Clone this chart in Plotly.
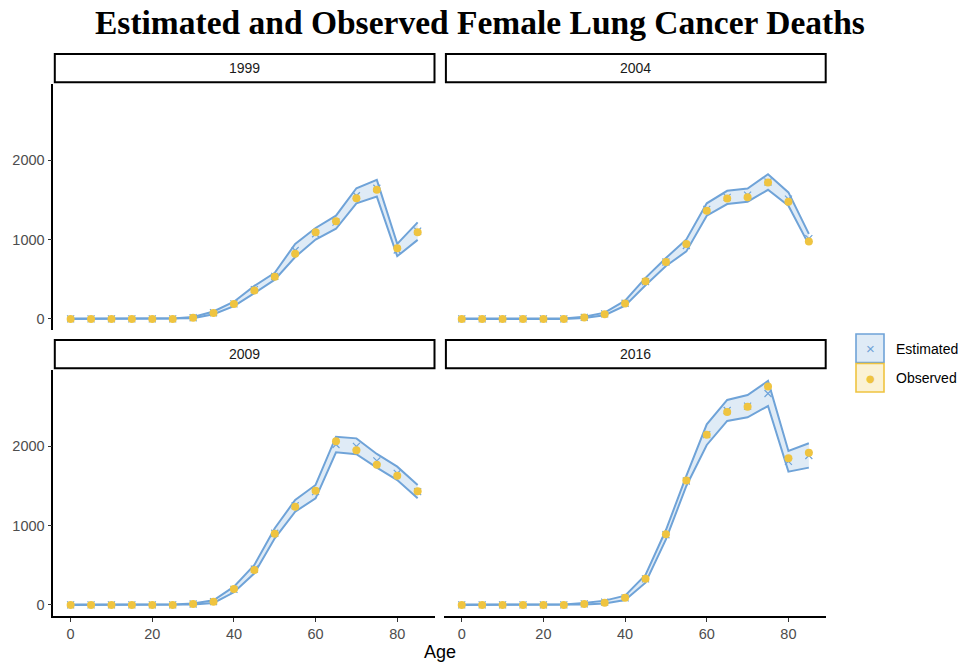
import plotly.graph_objects as go

W, H = 968, 664

ages = [0, 5, 10, 15, 20, 25, 30, 35, 40, 45, 50, 55, 60, 65, 70, 75, 80, 85]
years = ["1999", "2004", "2009", "2016"]

obs_1999 = [0, 0, 0, 0, 0, 0, 15, 75, 190, 358, 530, 820, 1090, 1230, 1520, 1625, 890, 1090]
up_1999 = [5, 5, 5, 5, 5, 5, 25, 95, 217, 417, 580, 945, 1145, 1300, 1645, 1750, 945, 1215]
lo_1999 = [0, 0, 0, 0, 0, 0, 8, 60, 162, 325, 495, 780, 1000, 1135, 1455, 1540, 790, 995]
est_1999 = [2, 2, 2, 2, 2, 2, 16, 78, 190, 370, 537, 862, 1072, 1218, 1550, 1645, 868, 1105]

obs_2004 = [0, 0, 0, 0, 0, 0, 20, 60, 195, 475, 717, 942, 1362, 1517, 1530, 1717, 1475, 975]
up_2004 = [5, 5, 5, 5, 5, 5, 28, 80, 230, 517, 767, 1000, 1455, 1612, 1642, 1821, 1592, 1071]
lo_2004 = [0, 0, 0, 0, 0, 0, 12, 48, 167, 425, 667, 850, 1300, 1446, 1475, 1625, 1425, 935]
est_2004 = [2, 2, 2, 2, 2, 2, 20, 64, 198, 471, 717, 925, 1378, 1529, 1558, 1723, 1508, 1010]

obs_2009 = [0, 0, 0, 0, 0, 0, 12, 40, 201, 440, 897, 1237, 1438, 2059, 1946, 1765, 1627, 1430]
up_2009 = [5, 5, 5, 5, 5, 5, 20, 60, 231, 503, 965, 1321, 1510, 2117, 2096, 1900, 1740, 1510]
lo_2009 = [0, 0, 0, 0, 0, 0, 6, 25, 160, 399, 839, 1174, 1342, 1921, 1896, 1727, 1572, 1342]
est_2009 = [2, 2, 2, 2, 2, 2, 13, 42, 196, 451, 902, 1248, 1426, 2019, 1996, 1813, 1656, 1426]

obs_2016 = [0, 0, 0, 0, 0, 0, 12, 29, 92, 331, 889, 1565, 2143, 2428, 2495, 2747, 1845, 1916]
up_2016 = [5, 5, 5, 5, 5, 5, 25, 55, 117, 377, 943, 1623, 2273, 2579, 2642, 2818, 1937, 2034]
lo_2016 = [0, 0, 0, 0, 0, 0, 5, 18, 63, 281, 826, 1497, 2013, 2315, 2361, 2503, 1677, 1728]
est_2016 = [2, 2, 2, 2, 2, 2, 14, 36, 90, 329, 884, 1560, 2143, 2447, 2501, 2660, 1807, 1881]

x_ticks = [0, 20, 40, 60, 80]
y_ticks = [0, 1000, 2000]

panels = [
    (obs_1999, up_1999, lo_1999, est_1999),
    (obs_2004, up_2004, lo_2004, est_2004),
    (obs_2009, up_2009, lo_2009, est_2009),
    (obs_2016, up_2016, lo_2016, est_2016),
]

BLUE = "#6FA3D8"
FILL = "rgba(111,163,216,0.22)"
YEL = "#EFC440"
TXT = "#4D4D4D"
FONT = "Liberation Sans, Arial, sans-serif"

# pixel geometry of panels
col_px = [(53.3, 435.0), (444.4, 826.2)]
row_px = [(83.6, 330.2), (369.6, 616.2)]
strip_px = [(54.0, 82.3), (340.0, 368.3)]

def px_x(v):
    return v / W

def px_y(v):
    return 1 - v / H

fig = go.Figure()
layout_axes = {}
shapes = []
annotations = []

for i, (obs, up, lo, est) in enumerate(panels):
    r, c = divmod(i, 2)
    n = i + 1
    xa = "x" if n == 1 else f"x{n}"
    ya = "y" if n == 1 else f"y{n}"
    fig.add_trace(go.Scatter(x=ages, y=lo, mode="lines", line=dict(color=BLUE, width=2),
                             xaxis=xa, yaxis=ya, showlegend=False, hoverinfo="skip"))
    fig.add_trace(go.Scatter(x=ages, y=up, mode="lines", line=dict(color=BLUE, width=2),
                             fill="tonexty", fillcolor=FILL,
                             xaxis=xa, yaxis=ya, showlegend=False, hoverinfo="skip"))
    fig.add_trace(go.Scatter(x=ages, y=est, mode="markers",
                             marker=dict(symbol="x-thin", size=7, line=dict(color=BLUE, width=1.2)),
                             xaxis=xa, yaxis=ya, showlegend=False, name="Estimated"))
    fig.add_trace(go.Scatter(x=ages, y=obs, mode="markers",
                             marker=dict(symbol="circle", size=8, color=YEL),
                             xaxis=xa, yaxis=ya, showlegend=False, name="Observed"))

    x0, x1 = col_px[c]
    y0, y1 = row_px[r]
    xkey = "xaxis" if n == 1 else f"xaxis{n}"
    ykey = "yaxis" if n == 1 else f"yaxis{n}"
    bottom = r == 1
    left = c == 0
    layout_axes[xkey] = dict(
        domain=[px_x(x0), px_x(x1)], anchor=ya, range=[-4.25, 89.25],
        tickvals=x_ticks, showgrid=False, zeroline=False,
        showline=bottom, linecolor="black", linewidth=1.6,
        ticks="outside" if bottom else "", ticklen=4, tickwidth=1.3, tickcolor="#333333",
        showticklabels=bottom, tickfont=dict(family=FONT, size=14.5, color=TXT),
    )
    layout_axes[ykey] = dict(
        domain=[px_y(y1), px_y(y0)], anchor=xa, range=[-141, 2961],
        tickvals=y_ticks, showgrid=False, zeroline=False,
        showline=left, linecolor="black", linewidth=1.6,
        ticks="outside" if left else "", ticklen=4, tickwidth=1.3, tickcolor="#333333",
        showticklabels=left, tickfont=dict(family=FONT, size=14.5, color=TXT),
    )

    sy0, sy1 = strip_px[r]
    shapes.append(dict(type="rect", xref="paper", yref="paper",
                       x0=px_x(x0 + 1.5), x1=px_x(x1 - 0.5), y0=px_y(sy1), y1=px_y(sy0),
                       line=dict(color="black", width=2), fillcolor="white", layer="below"))
    annotations.append(dict(text=years[i], xref="paper", yref="paper",
                            x=px_x((x0 + x1) / 2), y=px_y((sy0 + sy1) / 2),
                            showarrow=False, xanchor="center", yanchor="middle",
                            font=dict(family=FONT, size=14, color="#1A1A1A")))

# x axis title
annotations.append(dict(text="Age", xref="paper", yref="paper",
                        x=px_x(439.5), y=px_y(652), showarrow=False,
                        xanchor="center", yanchor="middle",
                        font=dict(family=FONT, size=18, color="black")))

# legend (drawn manually to mimic ggplot keys)
legend_items = [("Estimated", "×", BLUE, "rgba(111,163,216,0.22)", 334.0, 15, "Liberation Sans, Arial, sans-serif"),
                ("Observed", "●", YEL, "rgba(239,196,64,0.22)", 363.5, 10, "DejaVu Sans, sans-serif")]
for label, sym, col, fc, ytop, ssize, sfont in legend_items:
    shapes.append(dict(type="rect", xref="paper", yref="paper",
                       x0=px_x(856), x1=px_x(884), y0=px_y(ytop + 28.5), y1=px_y(ytop),
                       line=dict(color=col, width=1.6), fillcolor=fc))
    annotations.append(dict(text=sym, xref="paper", yref="paper",
                            x=px_x(870), y=px_y(ytop + 14.5), showarrow=False,
                            xanchor="center", yanchor="middle",
                            font=dict(family=sfont, size=ssize, color=col)))
    annotations.append(dict(text=label, xref="paper", yref="paper",
                            x=px_x(894), y=px_y(ytop + 14.5), showarrow=False,
                            xanchor="left", yanchor="middle",
                            font=dict(family=FONT, size=14, color="black")))

# title
annotations.append(dict(text="<b>Estimated and Observed Female Lung Cancer Deaths</b>",
                        xref="paper", yref="paper", x=px_x(480), y=px_y(23),
                        showarrow=False, xanchor="center", yanchor="middle",
                        font=dict(family="Liberation Serif, DejaVu Serif, serif", size=33.5, color="black")))

fig.update_layout(
    width=W, height=H, margin=dict(l=0, r=0, t=0, b=0),
    paper_bgcolor="white", plot_bgcolor="white",
    showlegend=False, shapes=shapes, annotations=annotations,
    **layout_axes,
)

fig.write_html("out.html")
